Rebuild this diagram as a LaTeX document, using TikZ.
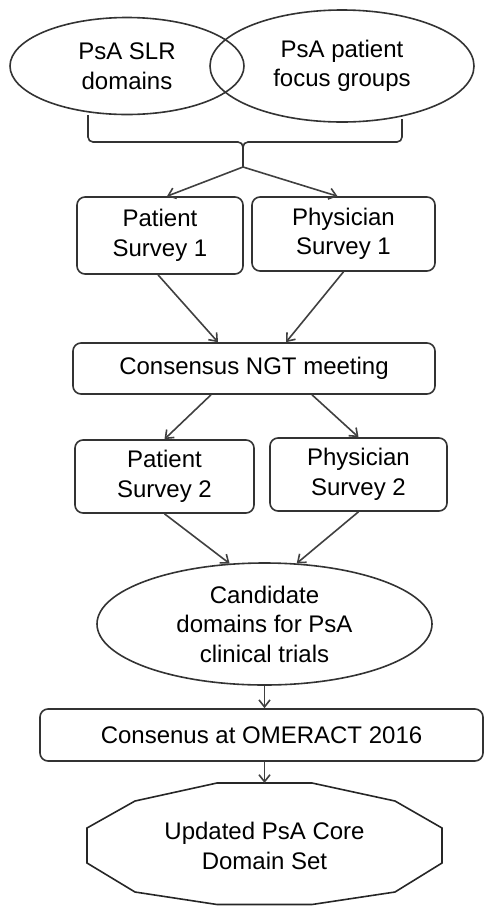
\documentclass[tikz,border=0pt]{standalone}
\usepackage{fontspec}
\setmainfont{Liberation Sans}
\usetikzlibrary{arrows.meta,shapes.geometric}

\begin{document}
\begin{tikzpicture}[x=1pt,y=-1pt,line width=1.6pt,font=\fontsize{24}{29.5}\selectfont]
\tikzset{box/.style = {draw=black!80,rounded corners=8pt,align=center,inner sep=0pt}}
\tikzset{oval/.style = {shape=ellipse,draw=black!80,align=center,inner sep=0pt}}
\tikzset{edge/.style = {draw=black!75,-{Straight Barb[length=7pt,width=11pt]}}}
\tikzset{bracket/.style = {draw=black!80,rounded corners=5pt}}
\useasboundingbox (0,0) rectangle (485,906);
% sources
\node[oval,minimum width=234pt,minimum height=97pt] (slr) at (127,66) {PsA SLR\\domains};
\node[oval,minimum width=264pt,minimum height=112pt] (focus) at (342,66) {PsA patient\\focus groups};
% bracket
\coordinate (bl) at (88,115);
\coordinate (br) at (402,119);
\coordinate (bmid) at (243,142);
\coordinate (tip) at (243,167);
\draw[bracket] (bl) |- (bmid) -- (tip);
\draw[bracket] (br) |- (bmid) -- (tip);
% surveys
\node[box,minimum width=166pt,minimum height=77pt] (ps1) at (160,235.5) {Patient\\Survey 1};
\node[box,minimum width=183pt,minimum height=74pt] (phs1) at (343.5,234) {Physician\\Survey 1};
\node[box,minimum width=362pt,minimum height=51pt] (ngt) at (254,368.5) {Consensus NGT meeting};
\node[box,minimum width=179pt,minimum height=73pt] (ps2) at (164.5,476.5) {Patient\\Survey 2};
\node[box,minimum width=177pt,minimum height=73pt] (phs2) at (358.5,474.5) {Physician\\Survey 2};
% outcome
\node[oval,minimum width=335pt,minimum height=122pt] (cand) at (264.5,624) {Candidate\\domains for PsA\\clinical trials};
\node[box,minimum width=443pt,minimum height=52pt] (omer) at (261.5,735) {Consenus at OMERACT 2016};
\node[align=center] (core) at (264.5,846) {Updated PsA Core\\Domain Set};
\coordinate (coretop) at (264.5,783);
\draw[draw=black!85] (217,783) -- (312,783) -- (395,801) -- (442,828) -- (442,863) -- (395,892)
  -- (312,904.5) -- (217,904.5) -- (135,892) -- (87,863) -- (87,828) -- (135,801) -- cycle;
% edges
\draw[edge] (tip) -- ([xshift=7pt]ps1.north);
\draw[edge] (tip) -- ([xshift=-6pt]phs1.north);
\draw[edge] ([xshift=-2pt]ps1.south) -- ([xshift=-36pt]ngt.north);
\draw[edge] (phs1.south) -- ([xshift=32pt]ngt.north);
\draw[edge] ([xshift=-43pt]ngt.south) -- (ps2.north);
\draw[edge] ([xshift=58pt]ngt.south) -- (phs2.north);
\draw[edge] (ps2.south) -- (cand.120);
\draw[edge] (phs2.south) -- (cand.62);
\draw[edge] (cand.south) -- (cand.south |- omer.north);
\draw[edge] (omer.south -| coretop) -- (coretop);
\end{tikzpicture}
\end{document}
